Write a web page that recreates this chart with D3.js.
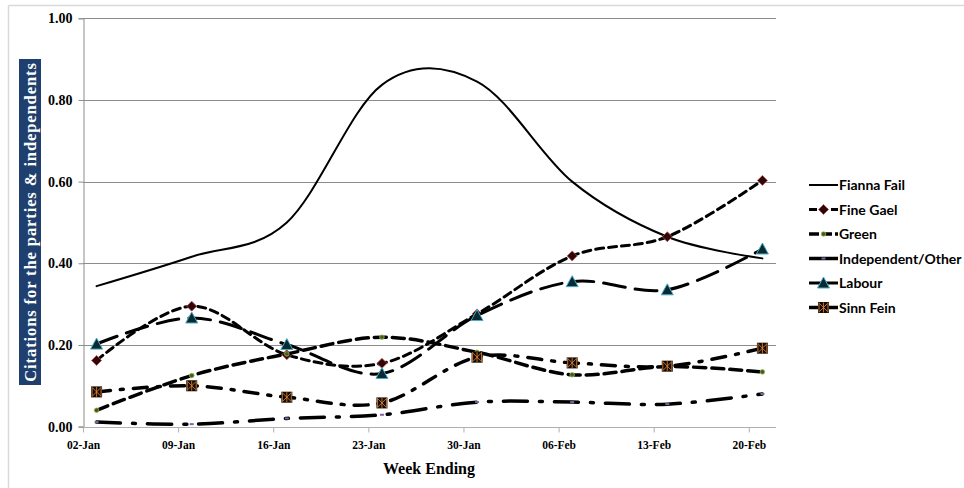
<!DOCTYPE html>
<html>
<head>
<meta charset="utf-8">
<script src="https://cdn.jsdelivr.net/npm/d3@7/dist/d3.min.js"></script>
<style>
  html, body { margin: 0; padding: 0; background: #fff; }
  svg { display: block; }
</style>
</head>
<body>
<svg id="chart" width="964" height="488"></svg>
<script>
// ---------- DATA ----------
const weekDates = ["2011-01-03","2011-01-10","2011-01-17","2011-01-24","2011-01-31","2011-02-07","2011-02-14","2011-02-21"];
const tickDates = ["2011-01-02","2011-01-09","2011-01-16","2011-01-23","2011-01-30","2011-02-06","2011-02-13","2011-02-20"];
const yTicks = [0, 0.2, 0.4, 0.6, 0.8, 1.0];

const fiannaFail  = [0.344, 0.416, 0.500, 0.837, 0.845, 0.600, 0.465, 0.412];
const fineGael    = [0.162, 0.295, 0.176, 0.155, 0.276, 0.418, 0.465, 0.603];
const green       = [0.040, 0.125, 0.178, 0.219, 0.182, 0.127, 0.147, 0.134];
const independent = [0.011, 0.006, 0.020, 0.029, 0.060, 0.060, 0.055, 0.080];
const labour      = [0.202, 0.266, 0.201, 0.130, 0.272, 0.355, 0.335, 0.435];
const sinnFein    = [0.085, 0.100, 0.072, 0.058, 0.170, 0.156, 0.148, 0.192];

const seriesNames = ["Fianna Fail","Fine Gael","Green","Independent/Other","Labour","Sinn Fein"];
const seriesValues = [fiannaFail, fineGael, green, independent, labour, sinnFein];

// ---------- STYLES ----------
const styles = {
  "Fianna Fail":       { width: 2,   dash: null,               marker: "none" },
  "Fine Gael":         { width: 3,   dash: "8,5",              marker: "diamond" },
  "Green":             { width: 3.5, dash: "12,6",             marker: "circle" },
  "Independent/Other": { width: 3.5, dash: "24,12,3,12",       marker: "dash" },
  "Labour":            { width: 3,   dash: "22,10",            marker: "triangle" },
  "Sinn Fein":         { width: 3.5, dash: "14,10,3,10",       marker: "star" }
};

const parse = d3.timeParse("%Y-%m-%d");
const fmt = d3.timeFormat("%d-%b");

const svg = d3.select("#chart");

// outer border (left & top)
svg.append("line").attr("x1", 8.5).attr("x2", 8.5).attr("y1", 5.5).attr("y2", 488)
  .attr("stroke", "#d9d9d9").attr("stroke-width", 1.5);
svg.append("line").attr("x1", 8.5).attr("x2", 964).attr("y1", 5.5).attr("y2", 5.5)
  .attr("stroke", "#d9d9d9").attr("stroke-width", 1.5);

const plotLeft = 83, plotRight = 776, plotTop = 18.3, plotBottom = 426.6;

const x = d3.scaleTime()
  .domain([parse("2011-01-02"), parse("2011-02-22")])
  .range([plotLeft, plotRight]);
const y = d3.scaleLinear().domain([0, 1]).range([plotBottom, plotTop]);

// gridlines
svg.append("g").selectAll("line").data(yTicks.filter(d => d > 0)).join("line")
  .attr("x1", plotLeft).attr("x2", plotRight)
  .attr("y1", d => Math.round(y(d)) + 0.5).attr("y2", d => Math.round(y(d)) + 0.5)
  .attr("stroke", "#8c8c8c").attr("stroke-width", 1);

// y axis
const yAxis = svg.append("g")
  .attr("transform", `translate(${plotLeft + 0.5},0)`)
  .call(d3.axisLeft(y).tickValues(yTicks).tickFormat(d3.format(".2f")).tickSize(5).tickPadding(6));
yAxis.select(".domain").attr("stroke", "#8c8c8c");
yAxis.selectAll(".tick line").attr("stroke", "#8c8c8c");
yAxis.selectAll(".tick text")
  .attr("font-family", "'Liberation Serif', 'DejaVu Serif', serif")
  .attr("font-weight", "bold").attr("font-size", 14).attr("fill", "#000");

// x axis
const xAxis = svg.append("g")
  .attr("transform", `translate(0,${Math.round(plotBottom) + 0.5})`)
  .call(d3.axisBottom(x).tickValues(tickDates.map(parse)).tickFormat(fmt).tickSize(5).tickPadding(8));
xAxis.select(".domain").attr("stroke", "#b0b0b0").attr("d", `M${plotLeft},0H${plotRight}`);
xAxis.selectAll(".tick line").attr("stroke", "#b0b0b0");
xAxis.selectAll(".tick text")
  .attr("font-family", "'Liberation Serif', 'DejaVu Serif', serif")
  .attr("font-weight", "bold").attr("font-size", 11.5).attr("fill", "#000");

// axis titles
svg.append("text").attr("x", 429).attr("y", 474).attr("text-anchor", "middle")
  .attr("font-family", "'Liberation Serif', 'DejaVu Serif', serif")
  .attr("font-weight", "bold").attr("font-size", 16).text("Week Ending");

svg.append("rect").attr("x", 19).attr("y", 59).attr("width", 22).attr("height", 326)
  .attr("fill", "#1f3f6e");
svg.append("text")
  .attr("transform", "translate(36,222) rotate(-90)")
  .attr("text-anchor", "middle")
  .attr("font-family", "'Liberation Serif', 'DejaVu Serif', serif")
  .attr("font-weight", "bold").attr("font-size", 16.5).attr("fill", "#fff")
  .attr("letter-spacing", 0.9)
  .text("Citations for the parties & independents");

// ---------- SERIES ----------
const line = d3.line()
  .x(d => x(d.date)).y(d => y(d.value))
  .curve(d3.curveCatmullRom.alpha(0));

function drawMarker(g, type, cx, cy) {
  if (type === "diamond") {
    g.append("path").attr("d", `M${cx},${cy-5}L${cx+5},${cy}L${cx},${cy+5}L${cx-5},${cy}Z`)
      .attr("fill", "#2e0808").attr("stroke", "#c0504d").attr("stroke-width", 0.8);
  } else if (type === "circle") {
    g.append("circle").attr("cx", cx).attr("cy", cy).attr("r", 2.3)
      .attr("fill", "#4a5a1a").attr("stroke", "#9bbb59").attr("stroke-width", 0.8);
  } else if (type === "dash") {
    g.append("rect").attr("x", cx - 2).attr("y", cy - 1).attr("width", 4).attr("height", 2)
      .attr("fill", "#8064a2");
  } else if (type === "triangle") {
    g.append("path").attr("d", `M${cx},${cy-6}L${cx+6},${cy+5}L${cx-6},${cy+5}Z`)
      .attr("fill", "#0a2a33").attr("stroke", "#4bacc6").attr("stroke-width", 1);
  } else if (type === "star") {
    g.append("rect").attr("x", cx - 5.5).attr("y", cy - 5.5).attr("width", 11).attr("height", 11)
      .attr("fill", "#140b03");
    g.append("path")
      .attr("d", `M${cx-4},${cy-4}L${cx+4},${cy+4}M${cx+4},${cy-4}L${cx-4},${cy+4}M${cx},${cy-5}L${cx},${cy+5}M${cx-4.5},${cy-5}L${cx-4.5},${cy+5}M${cx+4.5},${cy-5}L${cx+4.5},${cy+5}`)
      .attr("stroke", "#e8893c").attr("stroke-width", 0.8).attr("fill", "none");
  }
}

const seriesG = svg.append("g");
seriesNames.forEach((name, i) => {
  const st = styles[name];
  const pts = weekDates.map((d, j) => ({ date: parse(d), value: seriesValues[i][j] }));
  seriesG.append("path").datum(pts)
    .attr("d", line)
    .attr("fill", "none").attr("stroke", "#000")
    .attr("stroke-width", st.width)
    .attr("stroke-dasharray", st.dash)
    .attr("stroke-linecap", "round");
  const mg = seriesG.append("g");
  pts.forEach(p => drawMarker(mg, st.marker, x(p.date), y(p.value)));
});

// ---------- LEGEND ----------
const legend = svg.append("g");
seriesNames.forEach((name, i) => {
  const st = styles[name];
  const ly = 185 + i * 24.5;
  legend.append("line").attr("x1", 809).attr("x2", 838).attr("y1", ly).attr("y2", ly)
    .attr("stroke", "#000").attr("stroke-width", st.width)
    .attr("stroke-dasharray", st.dash ? (name === "Fine Gael" ? "8,3" : (name === "Green" ? "10,3" : null)) : null);
  drawMarker(legend, st.marker, 823.5, ly);
  legend.append("text").attr("x", 839).attr("y", ly + 5)
    .attr("font-family", "Lato, 'Open Sans', sans-serif")
    .attr("font-weight", "bold").attr("font-size", 14).attr("fill", "#000")
    .text(name);
});
</script>
</body>
</html>
